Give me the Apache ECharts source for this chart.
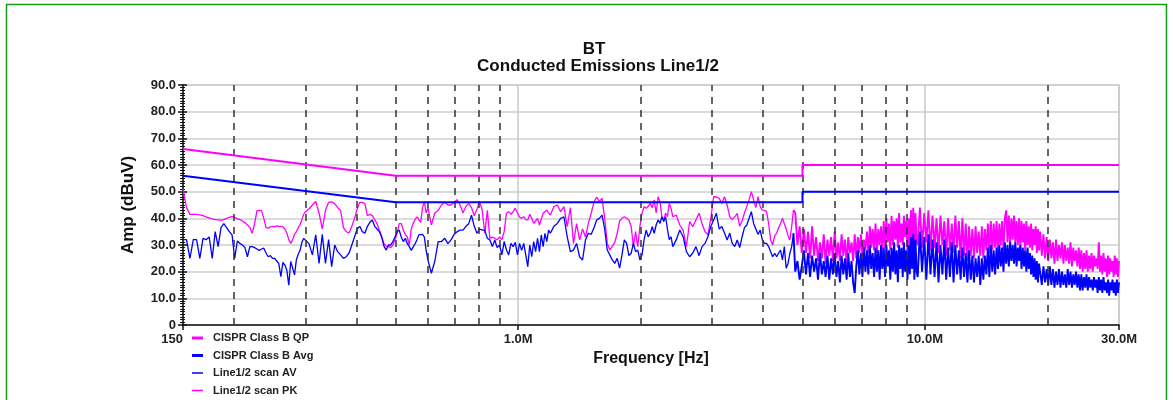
<!DOCTYPE html>
<html><head><meta charset="utf-8">
<script src="https://cdn.jsdelivr.net/npm/echarts@6/dist/echarts.min.js"></script>
<style>html,body{margin:0;padding:0;background:#fff}#c{width:1173px;height:400px}</style>
</head><body><div id="c"></div>
<script>
// ---- limits ----
const limitFreqMHz = [0.15, 0.5, 5, 5, 30];
const qpLimit = [66, 56, 56, 60, 60];
const avgLimit = [56, 46, 46, 50, 50];
// ---- axis labels ----
const xTickValues = [0.15, 1, 10, 30];
const xTickLabels = ['150', '1.0M', '10.0M', '30.0M'];
const dashedFreqMHz = [0.2,0.3,0.4,0.5,0.6,0.7,0.8,0.9,2,3,4,5,6,7,8,9,20];
const seriesNames = ['CISPR Class B QP','CISPR Class B Avg','Line1/2 scan AV','Line1/2 scan PK'];

// ---- scan data (MHz, dBuV) ----
const freqBand1 = [0.150,0.153,0.156,0.159,0.162,0.165,0.168,0.171,0.174,0.177,0.180,0.183,0.186,0.189,0.192,0.195,0.198,0.201,0.204,0.207,0.210,0.213,0.216,0.219,0.222,0.225,0.228,0.231,0.234,0.237,0.240,0.243,0.246,0.249,0.252,0.255,0.258,0.261,0.264,0.267,0.270,0.273,0.276,0.279,0.282,0.285,0.288,0.291,0.294,0.297];
const pkBand1 = [51,44,41.5,41.5,41.5,41.3,41,40.5,40.2,39.8,39.5,39.4,39.2,39.5,40,40.4,40.7,40.4,39.8,39.5,39,38.3,37.5,36.6,34.4,38,42.9,43,42.9,40,36.5,36.3,36.8,37,36.8,37.2,37,37,36.8,36,34.5,32,30.6,32,34,35,36.5,37.7,39.5,41.5];
const avBand1 = [32,32,25,32,32,25,32.5,32,33,25,35,29.4,36.5,38,36.5,35,33.8,25,31.5,30.6,30,29,25.6,29.4,29.4,29,28.5,28,28.5,28.8,27,25.6,26,25,25,24,23,18.1,23.5,22.5,20.5,14.9,23.8,24.4,18.8,24.5,26.5,28,31,32.5];

const freqBand2 = [0.300,0.306,0.312,0.318,0.324,0.330,0.336,0.342,0.348,0.354,0.360,0.366,0.372,0.378,0.384,0.390,0.396,0.402,0.408,0.414,0.420,0.426,0.432,0.438,0.444,0.450,0.456,0.462,0.468,0.474,0.480,0.486,0.492,0.498,0.504,0.510,0.516,0.522,0.528,0.534,0.540,0.546,0.552,0.558,0.564,0.570,0.576,0.582,0.588,0.594];
const pkBand2 = [42.5,43.5,45,46.3,42,36,43,46,46.2,45.5,44,43,36.5,35,34.5,37,40,43.5,46,46,45.5,41,41.5,41,39.5,38,35.5,33,30.5,29.5,29.5,29,30,32,34.4,38,38,35.6,33.8,33,30,36,38.1,39.5,40.6,39.5,38.5,44,46.3,42];
const avBand2 = [32,30.5,26.3,33.8,23.1,34,23.1,32,21.9,30,27.5,26.3,25,25.6,27,30,33,36,37,35,34.4,37,38.5,39.4,37,36,35,33,29.5,28.1,30,30,31.3,33,35,35.6,33,31.3,32.5,30.5,29.4,28,27.5,30.5,32,33.8,33.5,34,33,28];

const freqBand3 = [0.600,0.612,0.624,0.636,0.648,0.660,0.672,0.684,0.696,0.708,0.720,0.732,0.744,0.756,0.768,0.780,0.792,0.804,0.816,0.828,0.840,0.852,0.864,0.876,0.888,0.900,0.912,0.924,0.936,0.948,0.960,0.972,0.984,0.996,1.008,1.020,1.032,1.044,1.056,1.068,1.080,1.092,1.104,1.116,1.128,1.140,1.152,1.164,1.176,1.188];
const pkBand3 = [44,37.5,42,43,45,46,45,45,46,47,45,42,44.5,45.6,44,41,43.5,46.3,43,34.4,43,32.5,33,32.5,31.9,33,32,35,41.9,42.5,41.5,42.5,43.8,42,40.5,40,40.6,39.5,39.4,41.5,40,38.1,39,40,37.5,37,41.9,42.5,43.1,42];
const avBand3 = [24.4,19.4,24,31.3,31.3,32.5,30.5,31.9,34,35,35.6,35.6,37,38,41.2,37,34.4,36,35.6,35.6,32.5,31.9,29.4,31.9,29,30,26.3,31.3,28.1,26.3,30.6,29.4,31,26.3,30.6,28,30.6,26.3,21.9,30,25.6,31.3,27.5,32.5,27.5,33.8,29.4,34.4,31.3,35.6];

const freqBand4 = [1.200,1.224,1.248,1.272,1.296,1.320,1.344,1.368,1.392,1.416,1.440,1.464,1.488,1.512,1.536,1.560,1.584,1.608,1.632,1.656,1.680,1.704,1.728,1.752,1.776,1.800,1.824,1.848,1.872,1.896,1.920,1.944,1.968,1.992,2.016,2.040,2.064,2.088,2.112,2.136,2.160,2.184,2.208,2.232,2.256,2.280,2.304,2.328,2.352,2.376];
const pkBand4 = [41.2,44.4,45,42.5,44.4,36.9,44,30.6,38,31.9,36,33,38.1,42,46,48,46.3,47.5,40,30.6,28.1,29.5,31,34.4,39,40,40.6,40,39.4,37,29.4,35,29.4,36.9,41.9,44.4,43.8,44.5,45.6,44,46.9,42,48.1,46.3,40.6,39.4,41.9,40.6,45.6,43.8];
const avBand4 = [34.4,37,38.1,40,40.6,33.1,27.5,28.1,30.6,25.6,24.4,31.9,34.4,34,36.5,39.4,40,41.2,36,28.1,26.3,24.4,23.1,25,21.3,26.3,31.9,30.6,26,26.9,30.6,27.5,28.1,24.4,26.3,32,35.6,33.1,34.4,36.9,34.4,37.5,39.4,38.1,40.6,38.8,40.6,36,32,33.1];

const freqBand5 = [2.400,2.448,2.496,2.544,2.592,2.640,2.688,2.736,2.784,2.832,2.880,2.928,2.976,3.024,3.072,3.120,3.168,3.216,3.264,3.312,3.360,3.408,3.456,3.504,3.552,3.600,3.648,3.696,3.744,3.792,3.840,3.888,3.936,3.984,4.032,4.080,4.128,4.176,4.224,4.272,4.320,4.368,4.416,4.464,4.512,4.560,4.608,4.656,4.704,4.752];
const pkBand5 = [40.6,41.2,37.5,35.6,29.4,38.8,36.9,39.5,41.9,38,35,33.8,40,48.1,48,47.5,45.6,48.1,45,40.6,39.5,40.5,41.9,37,39,42,44.4,47,50,46.9,44,48.1,44.4,43.1,43,42.5,38.1,31.9,30,33.5,34.4,36.5,38.1,40,38,36,33.5,31.9,37,43.1];
const avBand5 = [29.4,32,35.6,33.1,27.5,25.6,27,29.4,26,29.4,30.6,33.1,36.9,39.4,41.9,36,36.9,34.5,31.9,34.4,30.6,29.4,31.9,29,33,36.5,37.5,40,42.5,38.1,36,34,35.6,31.9,30.6,30.6,29.4,27.5,25.6,26.9,25.6,27,28.1,24.4,29.4,21.3,23.1,26.9,29.4,34.4];

const freqBand6 = [4.80,4.86,4.92,4.98,5.04,5.10,5.16,5.22,5.28,5.34,5.40,5.46,5.52,5.58,5.64,5.70,5.76,5.82,5.88,5.94,6.00,6.06,6.12,6.18,6.24,6.30,6.36,6.42,6.48,6.54,6.60,6.66,6.72,6.78,6.84,6.90,6.96,7.02,7.08,7.14,7.20,7.26,7.32,7.38,7.44,7.50,7.56,7.62,7.68,7.74,7.80,7.86,7.92,7.98,8.04,8.10,8.16,8.22,8.28,8.34,8.40,8.46,8.52,8.58,8.64,8.70,8.76,8.82,8.88,8.94,9.00,9.06,9.12,9.18,9.24,9.30,9.36,9.42,9.48,9.54];
const pkBand6 = [42,30,37,27,36,27,35,25,37,26,33,24,31,25,34,23,32,26,33,24,35,25,31,24,34,26,32,23,33,27,31,24,34,25,33,27,34,26,32,28,35,27,37,29,36,28,38,27,36,30,37,28,39,29,40,31,38,28,41,30,39,32,40,29,42,31,38,30,41,33,39,28,40,30,43,32,44,29,42,31];
const avBand6 = [20,24,17,22,28,19,27,18,26,20,25,17,27,19,24,18,26,17,25,19,27,18,24,16,26,19,25,17,27,18,24,16,12,22,28,19,27,18,29,20,28,19,30,21,27,18,29,20,28,17,30,21,29,18,30,22,28,17,29,20,31,19,28,16,30,21,29,18,31,20,28,17,30,19,33,21,34,17,32,20];

const freqBand7 = [9.60,9.72,9.84,9.96,10.08,10.20,10.32,10.44,10.56,10.68,10.80,10.92,11.04,11.16,11.28,11.40,11.52,11.64,11.76,11.88,12.00,12.12,12.24,12.36,12.48,12.60,12.72,12.84,12.96,13.08,13.20,13.32,13.44,13.56,13.68,13.80,13.92,14.04,14.16,14.28,14.40,14.52,14.64,14.76,14.88,15.00,15.12,15.24,15.36,15.48,15.60,15.72,15.84,15.96,16.08,16.20,16.32,16.44,16.56,16.68,16.80,16.92,17.04,17.16,17.28,17.40,17.52,17.64,17.76,17.88,18.00,18.12,18.24,18.36,18.48,18.60,18.72,18.84,18.96,19.08];
const pkBand7 = [30,44,29,42,31,43,28,41,29,40,27,41,30,39,26,40,28,38,27,41,29,39,25,40,26,38,24,37,26,36,25,37,27,35,26,37,25,36,28,38,27,39,28,38,29,39,27,38,30,39,28,40,43,31,41,30,40,32,41,31,39,30,40,29,39,31,38,28,39,30,37,29,38,28,36,30,37,27,36,28];
const avBand7 = [18,35,20,33,17,34,19,32,18,31,16,30,19,32,17,29,18,31,16,30,19,28,17,29,18,27,16,28,17,26,16,25,18,26,15,25,17,26,19,29,18,30,20,28,19,29,21,30,22,29,20,31,23,30,22,31,24,30,23,31,22,29,24,30,21,29,22,28,20,29,21,27,19,26,18,25,17,24,16,23];

const freqBand8 = [19.20,19.38,19.56,19.74,19.92,20.10,20.28,20.46,20.64,20.82,21.00,21.18,21.36,21.54,21.72,21.90,22.08,22.26,22.44,22.62,22.80,22.98,23.16,23.34,23.52,23.70,23.88,24.06,24.24,24.42,24.60,24.78,24.96,25.14,25.32,25.50,25.68,25.86,26.04,26.22,26.40,26.58,26.76,26.94,27.12,27.30,27.48,27.66,27.84,28.02,28.20,28.38,28.56,28.74,28.92,29.10,29.28,29.46,29.64,29.82,30.00];
const pkBand8 = [35,26,34,25,33,24,32,25,31,23,32,24,30,25,31,23,30,24,29,23,31,22,29,24,28,22,29,21,28,20,27,21,28,20,26,21,27,20,26,22,25,21,31,20,26,19,27,20,25,18,26,19,25,20,24,18,26,19,25,18,24];
const avBand8 = [23,15,22,16,21,15,22,15,21,14,20,15,21,14,20,15,19,14,21,15,20,14,19,15,20,14,19,13,19,13,18,14,19,13,18,14,17,13,18,14,17,12,18,13,17,12,18,13,16,12,17,11,16,13,17,12,16,11,17,12,16];

// low band (150 kHz - 4.8 MHz) and dense band (4.8 - 30 MHz)
const lowFreq = [].concat(freqBand1,freqBand2,freqBand3,freqBand4,freqBand5);
const lowPK = [].concat(pkBand1,pkBand2,pkBand3,pkBand4,pkBand5);
const lowAV = [].concat(avBand1,avBand2,avBand3,avBand4,avBand5);
const highFreq = [freqBand5[freqBand5.length - 1]].concat(freqBand6,freqBand7,freqBand8);
const highPK = [pkBand5[pkBand5.length - 1]].concat(pkBand6,pkBand7,pkBand8);
const highAV = [avBand5[avBand5.length - 1]].concat(avBand6,avBand7,avBand8);

const zip = (f, v) => f.map((x, i) => [x, v[i]]);
const FONT = '"Liberation Sans", Arial, Helvetica, sans-serif';
const MAGENTA = '#ff00ff', BLUE = '#0000ff';

const chart = echarts.init(document.getElementById('c'), null, {renderer: 'canvas'});
chart.setOption({
  animation: false,
  backgroundColor: '#ffffff',
  graphic: [
    {type: 'rect', silent: true, z: 100, shape: {x: 6.5, y: 4.5, width: 1160, height: 420},
     style: {fill: 'none', stroke: '#169b16', lineWidth: 1.5}},
    {type: 'text', silent: true, x: 594, y: 41,
     style: {text: 'BT', font: 'bold 17px ' + FONT, fill: '#111', align: 'center', verticalAlign: 'top'}},
    {type: 'text', silent: true, x: 598, y: 58,
     style: {text: 'Conducted Emissions Line1/2', font: 'bold 17px ' + FONT, fill: '#111', align: 'center', verticalAlign: 'top'}}
  ],
  grid: {left: 183, right: 54, top: 85, bottom: 75, show: true, borderColor: '#c8c8c8', borderWidth: 1.5, containLabel: false},
  legend: {
    orient: 'vertical', left: 192, top: 332, padding: 0, itemWidth: 11, itemHeight: 10, itemGap: 5.5,
    selectedMode: false, symbolKeepAspect: true,
    data: [
      {name: seriesNames[0], icon: 'path://M0,0H11V3H0Z'},
      {name: seriesNames[1], icon: 'path://M0,0H11V3H0Z'},
      {name: seriesNames[2], icon: 'path://M0,0H22V3H0Z'},
      {name: seriesNames[3], icon: 'path://M0,0H22V3H0Z'}
    ],
    textStyle: {fontFamily: FONT, fontWeight: 'bold', fontSize: 11, color: '#222', lineHeight: 12, padding: [0, 0, 0, 5]}
  },
  xAxis: {
    type: 'log', logBase: 10, min: 0.15, max: 30,
    name: 'Frequency [Hz]', nameLocation: 'middle', nameGap: 25,
    nameTextStyle: {fontFamily: FONT, fontWeight: 'bold', fontSize: 16, color: '#111'},
    axisLine: {show: true, onZero: false, lineStyle: {color: '#111', width: 1.5}},
    axisTick: {show: true, length: 5, lineStyle: {color: '#111', width: 1.5}},
    axisLabel: {
      interval: 0, showMinLabel: true, showMaxLabel: true, alignMinLabel: 'right', margin: 8,
      fontFamily: FONT, fontWeight: 'bold', fontSize: 13, color: '#222',
      formatter: function (v) {
        let best = 0, bd = Infinity;
        xTickValues.forEach((t, i) => { const d = Math.abs(Math.log10(v) - Math.log10(t)); if (d < bd) { bd = d; best = i; } });
        return xTickLabels[best];
      }
    },
    splitLine: {show: true, lineStyle: {color: '#c8c8c8', width: 1.5}},
    minorTick: {show: false}, minorSplitLine: {show: false}
  },
  yAxis: [
    {
      type: 'value', min: 0, max: 90, interval: 10, position: 'left',
      name: 'Amp (dBuV)', nameLocation: 'middle', nameGap: 46, nameRotate: 90,
      nameTextStyle: {fontFamily: FONT, fontWeight: 'bold', fontSize: 17, color: '#111'},
      axisLine: {show: true, lineStyle: {color: '#111', width: 1.5}},
      axisTick: {show: true, length: 5, lineStyle: {color: '#111', width: 1.5}},
      minorTick: {show: true, splitNumber: 10, length: 3, lineStyle: {color: '#111', width: 1}},
      axisLabel: {margin: 7, fontFamily: FONT, fontWeight: 'bold', fontSize: 13, color: '#222',
        formatter: v => v === 0 ? '0' : v.toFixed(1)},
      splitLine: {show: true, lineStyle: {color: '#cfcfcf', width: 1.5}}
    },
    {
      type: 'value', min: 0, max: 90, interval: 10, position: 'left', offset: 0,
      axisLine: {show: false},
      axisTick: {show: true, inside: true, length: 4, lineStyle: {color: '#111', width: 1.5}},
      minorTick: {show: true, splitNumber: 10, length: 2, lineStyle: {color: '#111', width: 1}},
      axisLabel: {show: false}, splitLine: {show: false}
    }
  ],
  series: [
    {
      name: 'grid', type: 'line', data: [], z: 1, silent: true, symbol: 'none',
      markLine: {
        silent: true, symbol: ['none', 'none'], label: {show: false}, animation: false,
        lineStyle: {type: [7, 6], color: '#333', width: 1.5},
        data: dashedFreqMHz.map(f => ({xAxis: f}))
      }
    },
    {name: seriesNames[3], type: 'line', data: zip(lowFreq, lowPK), symbol: 'none', showSymbol: false,
     lineStyle: {color: MAGENTA, width: 1.3}, itemStyle: {color: MAGENTA}, z: 3},
    {name: seriesNames[3], type: 'line', data: zip(highFreq, highPK), symbol: 'none', showSymbol: false,
     lineStyle: {color: MAGENTA, width: 1.9}, itemStyle: {color: MAGENTA}, z: 3},
    {name: seriesNames[2], type: 'line', data: zip(lowFreq, lowAV), symbol: 'none', showSymbol: false,
     lineStyle: {color: BLUE, width: 1.3}, itemStyle: {color: BLUE}, z: 4},
    {name: seriesNames[2], type: 'line', data: zip(highFreq, highAV), symbol: 'none', showSymbol: false,
     lineStyle: {color: BLUE, width: 1.9}, itemStyle: {color: BLUE}, z: 4},
    {name: seriesNames[0], type: 'line', data: zip(limitFreqMHz, qpLimit), symbol: 'none', showSymbol: false,
     lineStyle: {color: MAGENTA, width: 2}, itemStyle: {color: MAGENTA}, z: 5},
    {name: seriesNames[1], type: 'line', data: zip(limitFreqMHz, avgLimit), symbol: 'none', showSymbol: false,
     lineStyle: {color: BLUE, width: 2}, itemStyle: {color: BLUE}, z: 5}
  ]
});
</script>
</body></html>
